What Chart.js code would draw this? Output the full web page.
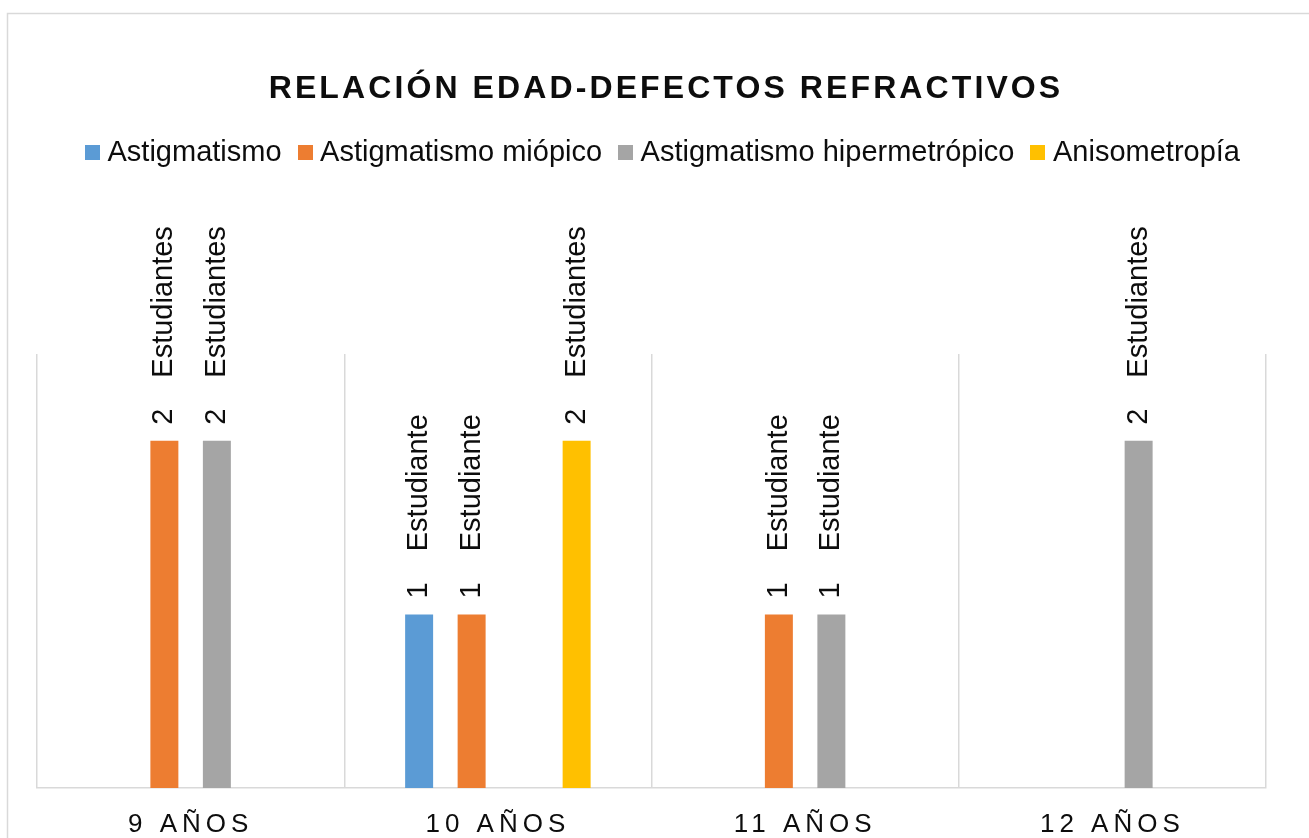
<!DOCTYPE html>
<html>
<head>
<meta charset="utf-8">
<script src="https://cdn.jsdelivr.net/npm/chart.js@4.4.1/dist/chart.umd.min.js"></script>
<style>
  html, body { margin: 0; padding: 0; background: #ffffff; }
  #wrap { width: 1309px; height: 838px; position: relative; }
</style>
</head>
<body>
<div id="wrap"><canvas id="c" width="1309" height="838"></canvas></div>
<script>
// ---- data ----
const categories = ['9 AÑOS', '10 AÑOS', '11 AÑOS', '12 AÑOS'];
const seriesNames = ['Astigmatismo', 'Astigmatismo miópico', 'Astigmatismo hipermetrópico', 'Anisometropía'];
const astigmatismo = [null, 1, null, null];
const astigmatismoMiopico = [2, 1, 1, null];
const astigmatismoHipermetropico = [2, null, 1, 2];
const anisometropia = [null, 2, null, null];
const seriesColors = ['#5B9BD5', '#ED7D31', '#A5A5A5', '#FFC000'];
const unitSingular = 'Estudiante';
const unitPlural = 'Estudiantes';
const chartTitle = 'RELACIÓN EDAD-DEFECTOS REFRACTIVOS';

const FONT = "'Liberation Sans', Arial, Helvetica, sans-serif";
Chart.defaults.font.family = FONT;
Chart.defaults.color = '#0d0d0d';

const canvas = document.getElementById('c');
const ctx = canvas.getContext('2d');

// letter spacing for title (32px) and category labels (26px)
const SPACING = { 32: 3.1, 26: 5 };
const origFill = ctx.fillText;
ctx.fillText = function (t, x, y, mw) {
  const m = /(\d+(?:\.\d+)?)px/.exec(this.font);
  const ls = m ? SPACING[+m[1]] : 0;
  const prev = this.letterSpacing;
  if (ls) this.letterSpacing = ls + 'px';
  if (mw === undefined) origFill.call(this, t, x, y); else origFill.call(this, t, x, y, mw);
  if (ls) this.letterSpacing = prev;
};

function square(color) {
  const c = document.createElement('canvas');
  c.width = 15; c.height = 15;
  const g = c.getContext('2d');
  g.fillStyle = color; g.fillRect(0, 0, 15, 15);
  return c;
}

const outerBorder = {
  id: 'outerBorder',
  beforeDraw(chart) {
    const g = chart.ctx;
    g.save();
    g.strokeStyle = '#d9d9d9';
    g.lineWidth = 1.5;
    g.strokeRect(7.5, 13.5, 1400, 900);
    g.restore();
  }
};

const barLabels = {
  id: 'barLabels',
  afterDatasetsDraw(chart) {
    const g = chart.ctx;
    g.save();
    g.font = '29px ' + FONT;
    g.fillStyle = '#0d0d0d';
    g.textAlign = 'left';
    g.textBaseline = 'middle';
    chart.data.datasets.forEach((ds, di) => {
      const meta = chart.getDatasetMeta(di);
      meta.data.forEach((el, i) => {
        const v = ds.data[i];
        if (v === null || v === undefined) return;
        const num = String(v);
        const word = v === 1 ? unitSingular : unitPlural;
        g.save();
        g.translate(el.x, el.y - 16);
        g.rotate(-Math.PI / 2);
        g.fillText(num, 0, 0);
        g.fillText(word, g.measureText(num).width + 31, 0);
        g.restore();
      });
    });
    g.restore();
  }
};

const seriesData = [astigmatismo, astigmatismoMiopico, astigmatismoHipermetropico, anisometropia];

new Chart(ctx, {
  type: 'bar',
  data: {
    labels: categories,
    datasets: seriesData.map((d, i) => ({
      label: seriesNames[i],
      data: d,
      backgroundColor: seriesColors[i],
      borderWidth: 0,
      categoryPercentage: 0.6835,
      barPercentage: 0.533,
      pointStyle: square(seriesColors[i])
    }))
  },
  options: {
    responsive: false,
    animation: false,
    events: [],
    layout: { padding: { left: 24, right: 1, top: 0, bottom: 0 } },
    plugins: {
      tooltip: { enabled: false },
      title: {
        display: true,
        text: chartTitle,
        color: '#0d0d0d',
        font: { size: 32, weight: 'bold', family: FONT },
        padding: { top: 70, bottom: 6.6 }
      },
      legend: {
        display: true,
        position: 'top',
        labels: {
          color: '#0d0d0d',
          font: { size: 29, family: FONT },
          usePointStyle: true,
          pointStyleWidth: 1,
          padding: 23
        }
      }
    },
    scales: {
      x: {
        position: 'bottom',
        grid: { display: true, offset: true, drawTicks: false, color: '#d9d9d9', lineWidth: 1.5 },
        border: { display: true, color: '#d9d9d9', width: 1.5 },
        ticks: { color: '#0d0d0d', font: { size: 26, family: FONT }, padding: 21, maxRotation: 0, autoSkip: false },
        afterFit(s) { s.height = 50; }
      },
      xTop: {
        type: 'category',
        position: 'top',
        labels: categories,
        grid: { display: false },
        border: { display: false },
        ticks: { display: false },
        afterFit(s) { s.height = 177; }
      },
      y: {
        position: 'left',
        min: 0,
        max: 2.5,
        grid: { display: false },
        border: { display: false },
        ticks: { display: false },
        afterFit(s) { s.width = 13; }
      },
      yRight: {
        type: 'linear',
        position: 'right',
        grid: { display: false },
        border: { display: false },
        ticks: { display: false },
        afterFit(s) { s.width = 42; }
      }
    }
  },
  plugins: [outerBorder, barLabels]
});
</script>
</body>
</html>
